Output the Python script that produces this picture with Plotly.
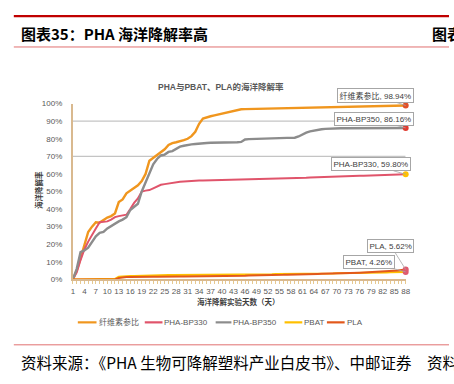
import plotly.graph_objects as go

W, H = 454, 384

days = list(range(1, 89))
tick_days = list(range(1, 89, 3))

series_names = ["纤维素参比", "PHA-BP330", "PHA-BP350", "PBAT", "PLA"]

cellulose = [
    0, 5, 12, 20, 27, 30, 32.5, 32.3, 34, 35.2,
    36, 37.5, 44, 45.5, 49, 50.5, 52, 53.5, 56, 60,
    67.5, 69, 71, 72.5, 74, 76.5, 77.5, 78, 78.5, 79.2,
    80, 81.5, 84, 88.5, 91.5, 92.3, 92.8, 93.3, 93.8, 94.3,
    94.8, 95.3, 95.8, 96.3, 96.8, 96.85, 96.9, 96.95, 97.0, 97.05,
    97.1, 97.15, 97.2, 97.3, 97.35, 97.4, 97.5, 97.55, 97.6, 97.7,
    97.75, 97.8, 97.85, 97.9, 97.95, 98.0, 98.05, 98.1, 98.15, 98.2,
    98.25, 98.3, 98.3, 98.35, 98.4, 98.45, 98.5, 98.5, 98.55, 98.6,
    98.65, 98.7, 98.75, 98.8, 98.8, 98.85, 98.9, 98.94,
]

bp330 = [
    0, 4, 11, 17, 21.5, 25.5, 29, 32.5, 32.6, 33,
    34, 35.4, 36, 36.5, 36.8, 40, 43.5, 46, 50, 50.5,
    50.8, 51.8, 52.8, 53.8, 54.2, 54.6, 55, 55.2, 55.5, 55.7,
    55.9, 56, 56.1, 56.2, 56.25, 56.3, 56.35, 56.4, 56.45, 56.5,
    56.5, 56.55, 56.6, 56.65, 56.7, 56.7, 56.75, 56.8, 56.85, 56.9,
    56.95, 57.0, 57.05, 57.1, 57.15, 57.2, 57.3, 57.4, 57.5, 57.6,
    57.7, 57.8, 58.0, 58.1, 58.2, 58.3, 58.35, 58.4, 58.5, 58.55,
    58.6, 58.7, 58.75, 58.8, 58.9, 58.95, 59.0, 59.1, 59.15, 59.2,
    59.3, 59.35, 59.4, 59.5, 59.55, 59.6, 59.7, 59.8,
]

bp350 = [
    0, 6, 15.5, 16.5, 18, 21, 24.5, 26.5, 27, 29,
    30.5, 32, 33, 34, 35.4, 39.5, 41, 43, 50, 55.5,
    60.5, 65.5, 68.5, 70.5, 71, 72.5, 73, 74.5, 75.5, 76,
    76.5, 76.8, 77, 77.3, 77.5, 77.6, 77.7, 77.7, 77.8, 77.8,
    77.9, 77.9, 78, 78, 78.2, 79.6, 79.8, 79.9, 80, 80,
    80.1, 80.1, 80.2, 80.2, 80.3, 80.4, 80.5, 80.5, 80.6, 81.3,
    82.5, 83.5, 84.2, 84.7, 85.1, 85.4, 85.6, 85.8, 85.9, 86.0,
    86.0, 86.02, 86.03, 86.04, 86.05, 86.06, 86.07, 86.08, 86.09, 86.1,
    86.11, 86.12, 86.12, 86.13, 86.14, 86.15, 86.15, 86.16,
]

pbat = [
    0, 0, 0, 0, 0, 0, 0, 0, 0, 0,
    0, 0.3, 1.5, 1.8, 1.9, 2.0, 2.0, 2.1, 2.1, 2.2,
    2.2, 2.3, 2.3, 2.4, 2.5, 2.5, 2.5, 2.5, 2.6, 2.6,
    2.6, 2.6, 2.6, 2.6, 2.6, 2.6, 2.6, 2.7, 2.7, 2.7,
    2.7, 2.7, 2.7, 2.7, 2.7, 2.7, 2.8, 2.8, 2.8, 2.8,
    2.9, 2.9, 2.9, 3.0, 3.0, 3.0, 3.0, 3.1, 3.1, 3.1,
    3.2, 3.2, 3.2, 3.3, 3.3, 3.3, 3.4, 3.4, 3.4, 3.5,
    3.5, 3.5, 3.5, 3.6, 3.6, 3.6, 3.7, 3.7, 3.7, 3.8,
    3.8, 3.9, 3.9, 4.0, 4.0, 4.1, 4.2, 4.26,
]

pla = [
    0, 0, 0, 0, 0, 0, 0, 0, 0, 0,
    0, 0, 0.8, 1.2, 1.3, 1.3, 1.4, 1.4, 1.4, 1.5,
    1.5, 1.5, 1.5, 1.6, 1.6, 1.6, 1.6, 1.7, 1.7, 1.7,
    1.7, 1.7, 1.8, 1.8, 1.8, 1.8, 1.9, 1.9, 1.9, 2.0,
    2.0, 2.0, 2.0, 2.1, 2.1, 2.1, 2.2, 2.2, 2.3, 2.3,
    2.4, 2.4, 2.5, 2.5, 2.6, 2.6, 2.7, 2.7, 2.8, 2.9,
    2.9, 3.0, 3.0, 3.1, 3.1, 3.2, 3.3, 3.3, 3.4, 3.5,
    3.5, 3.6, 3.6, 3.7, 3.8, 3.8, 3.9, 4.0, 4.0, 4.1,
    4.2, 4.3, 4.5, 4.6, 4.8, 5.0, 5.3, 5.62,
]

y_ticks = list(range(0, 101, 10))
y_tick_labels = [f"{v}%" for v in y_ticks]
grid_levels = [70, 90]

colors = ["#F0961E", "#E0546B", "#8C8C8C", "#FFC000", "#E2581B"]
end_marker_colors = ["#E0502A", "#FFC000", "#E03C31", "#E05A6E", "#E05A6E"]
widths = [2.4, 2.0, 2.4, 2.0, 2.0]
values = [cellulose, bp330, bp350, pbat, pla]

label_offsets = [(-30, -10), (-35, -10), (-32, -9), (-37, -10), (-15, -24)]


def px(x):
    return x / W


def py(y):
    return 1 - y / H


X0, X1 = 72, 410
Y0, Y1 = 282, 102

fig = go.Figure()

for name, vals, c, w in zip(series_names, values, colors, widths):
    fig.add_trace(go.Scatter(
        x=days, y=vals, mode="lines", name=name,
        line=dict(color=c, width=w), cliponaxis=False, showlegend=False,
        hoverinfo="skip",
    ))

for name, vals, mc in zip(series_names, values, end_marker_colors):
    fig.add_trace(go.Scatter(
        x=[days[-1]], y=[vals[-1]], mode="markers",
        marker=dict(color=mc, size=6), cliponaxis=False, showlegend=False,
        hoverinfo="skip",
    ))

shapes = []
for g in grid_levels:
    shapes.append(dict(type="line", xref="x", yref="y", x0=days[0], x1=days[-1],
                       y0=g, y1=g, line=dict(color="#C4C4C4", width=1.2), layer="below"))

# header / footer rules
shapes.append(dict(type="line", xref="paper", yref="paper", x0=px(12), x1=1,
                   y0=py(12.5), y1=py(12.5), line=dict(color="#C00000", width=2.2)))
shapes.append(dict(type="line", xref="paper", yref="paper", x0=px(12), x1=1,
                   y0=py(44), y1=py(44), line=dict(color="#E07070", width=1)))
shapes.append(dict(type="line", xref="paper", yref="paper", x0=px(12), x1=1,
                   y0=py(349), y1=py(349), line=dict(color="#E07070", width=1)))

annotations = []
# data labels
for name, vals, (ax, ay) in zip(series_names, values, label_offsets):
    annotations.append(dict(
        x=days[-1], y=vals[-1], xref="x", yref="y",
        text=f"{name}, {vals[-1]:.2f}%", showarrow=True, arrowhead=0,
        arrowwidth=0.8, arrowcolor="#A6A6A6", ax=ax, ay=ay,
        font=dict(family="Liberation Sans, Noto Sans CJK SC", size=8, color="#404040"),
        bgcolor="white", bordercolor="#A6A6A6", borderwidth=1, borderpad=1.5,
    ))


def label(x, y, text, size, color, family="Noto Sans CJK SC", xanchor="center", angle=0):
    return dict(x=px(x), y=py(y), xref="paper", yref="paper", xanchor=xanchor,
                yanchor="middle", text=text, showarrow=False, textangle=angle,
                font=dict(family=family, size=size, color=color))


annotations.append(label(222, 85, "<b>PHA与PBAT、PLA的海洋降解率</b>", 8.5, "#595959",
                         family="Liberation Sans, Noto Sans CJK SC"))
annotations.append(label(37, 190, "<b>海洋降解率</b>", 7.5, "#404040", angle=-90))
annotations.append(label(240, 305, "<b>海洋降解实验天数（天）</b>", 7.5, "#404040"))
annotations.append(label(17, 30, "<b>图表35：PHA 海洋降解率高</b>", 15, "#000000", xanchor="left"))
annotations.append(label(435, 30, "<b>图表</b>", 15, "#000000", xanchor="left"))
annotations.append(label(17, 367, "资料来源：《PHA 生物可降解塑料产业白皮书》、中邮证券", 15.5,
                         "#000000", xanchor="left"))
annotations.append(label(430, 367, "资料", 15.5, "#000000", xanchor="left"))

# manual legend
legend_pos = [(77, 96), (145, 163), (217, 233), (287, 305), (330, 348)]
for name, c, (lx0, lx1) in zip(series_names, colors, legend_pos):
    shapes.append(dict(type="line", xref="paper", yref="paper", x0=px(lx0), x1=px(lx1),
                       y0=py(326), y1=py(326), line=dict(color=c, width=2.2)))
    annotations.append(label(lx1, 326, name, 8, "#595959",
                             family="Liberation Sans, Noto Sans CJK SC", xanchor="left"))

fig.update_layout(
    width=W, height=H,
    margin=dict(l=0, r=0, t=0, b=0),
    paper_bgcolor="white", plot_bgcolor="white",
    showlegend=False,
    shapes=shapes, annotations=annotations,
    xaxis=dict(
        domain=[px(X0), px(X1)], range=[days[0], days[-1]],
        tickmode="array", tickvals=tick_days, ticktext=[str(d) for d in tick_days],
        showgrid=False, zeroline=False,
        showline=True, linecolor="#D9B98F", linewidth=1.5,
        ticks="outside", ticklen=3, tickcolor="#E6C98F", tickwidth=1,
        minor=dict(ticks="outside", ticklen=3, tickcolor="#E6C98F", dtick=1, tick0=1, showgrid=False),
        tickfont=dict(family="Liberation Sans", size=8, color="#595959"),
        fixedrange=True,
    ),
    yaxis=dict(
        domain=[py(Y0), py(Y1)], range=[0, 100],
        tickmode="array", tickvals=y_ticks, ticktext=y_tick_labels,
        showgrid=False, zeroline=False,
        showline=True, linecolor="#D9B98F", linewidth=2,
        ticks="", ticklabelstandoff=7,
        tickfont=dict(family="Liberation Sans", size=8, color="#595959"),
        fixedrange=True,
    ),
)

fig.write_html("out.html", post_script="document.body.style.margin='0';",
               config={"displayModeBar": False})
